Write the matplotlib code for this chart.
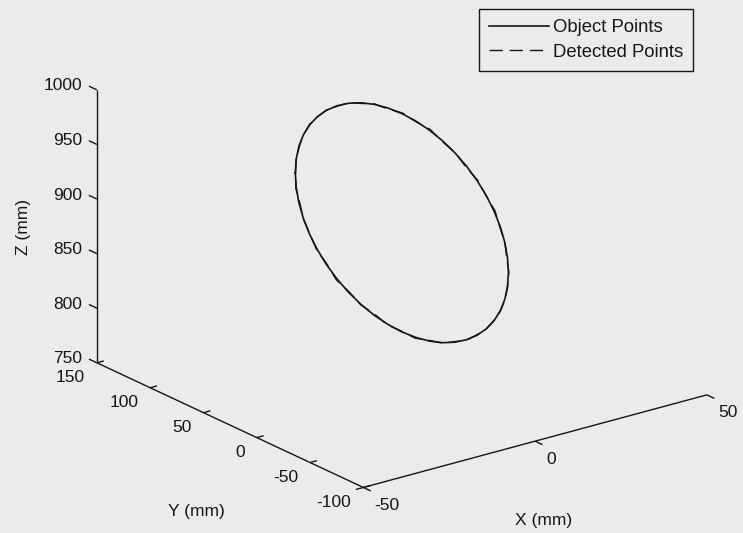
import numpy as np
import matplotlib
matplotlib.use("Agg")
import matplotlib.pyplot as plt
from mpl_toolkits.mplot3d import proj3d

# circle of object points (mm), plane X = const
obj_x = [0.0] * 49
obj_y = [125.0, 124.1, 121.6, 117.4, 111.6, 104.3, 95.7, 85.9, 75.0, 63.3, 50.9, 38.1,
         25.0, 11.9, -0.9, -13.3, -25.0, -35.9, -45.7, -54.3, -61.6, -67.4, -71.6, -74.1,
         -75.0, -74.1, -71.6, -67.4, -61.6, -54.3, -45.7, -35.9, -25.0, -13.3, -0.9, 11.9,
         25.0, 38.1, 50.9, 63.3, 75.0, 85.9, 95.7, 104.3, 111.6, 117.4, 121.6, 124.1, 125.0]
obj_z = [893.0, 906.1, 918.9, 931.3, 943.0, 953.9, 963.7, 972.3, 979.6, 985.4, 989.6, 992.1,
         993.0, 992.1, 989.6, 985.4, 979.6, 972.3, 963.7, 953.9, 943.0, 931.3, 918.9, 906.1,
         893.0, 879.9, 867.1, 854.7, 843.0, 832.1, 822.3, 813.7, 806.4, 800.6, 796.4, 793.9,
         793.0, 793.9, 796.4, 800.6, 806.4, 813.7, 822.3, 832.1, 843.0, 854.7, 867.1, 879.9, 893.0]

# detected points (mm)
det_x = [0.2, -0.1, 0.3, -0.2, 0.1, -0.3, 0.2, -0.1, 0.3, -0.2, 0.1, -0.3, 0.2, -0.1, 0.3, -0.2,
         0.1, -0.3, 0.2, -0.1, 0.3, -0.2, 0.1, -0.3, 0.2, -0.1, 0.3, -0.1, 0.2, -0.3, 0.1, -0.2,
         0.3, -0.1, 0.2, -0.3, 0.1, -0.2, 0.3, -0.1, 0.2, -0.3, 0.2, -0.2, 0.1, -0.1, 0.3, -0.2, 0.2]
det_y = [125.3, 123.9, 121.9, 117.1, 111.9, 104.0, 96.0, 85.6, 75.3, 63.0, 51.2, 37.8,
         25.3, 11.6, -0.6, -13.6, -24.7, -36.2, -45.4, -54.6, -61.3, -67.7, -71.3, -74.4,
         -74.7, -74.4, -71.3, -67.7, -61.3, -54.6, -45.4, -36.2, -24.7, -13.6, -0.6, 11.6,
         25.3, 37.8, 51.2, 63.0, 75.3, 85.6, 96.0, 104.0, 111.9, 117.1, 121.9, 123.9, 125.3]
det_z = [893.3, 905.8, 919.2, 931.0, 943.3, 953.6, 964.0, 972.0, 979.9, 985.1, 989.9, 991.8,
         993.3, 991.8, 989.9, 985.1, 979.9, 972.0, 964.0, 953.6, 943.3, 931.0, 919.2, 905.8,
         893.3, 879.6, 867.4, 854.4, 843.3, 831.8, 822.6, 813.4, 806.7, 800.3, 796.7, 793.6,
         793.3, 793.6, 796.7, 800.3, 806.7, 813.4, 822.6, 831.8, 843.3, 854.4, 867.4, 879.6, 893.3]

x_ticks = [-50, 0, 50]
y_ticks = [150, 100, 50, 0, -50, -100]
z_ticks = [750, 800, 850, 900, 950, 1000]

bg = '#ebebea'
ink = '#161616'
plt.rcParams['font.family'] = ['Liberation Sans', 'DejaVu Sans']
fs = 12.5

fig = plt.figure(figsize=(7.43, 5.33), dpi=100, facecolor=bg)
ax = fig.add_axes([0.1, 0.1, 0.8, 0.8 * 743 / 533], projection='3d', proj_type='ortho')
ax.set_facecolor(bg)
ax.set_xlim(-50, 50)
ax.set_ylim(-100, 150)
ax.set_zlim(750, 1000)
ax.set_box_aspect((1.0, 1.022, 0.677))
ax.view_init(elev=20.8, azim=-127.2)
ax.set_axis_off()

x0, x1 = -50, 50
y0, y1 = -100, 150
z0, z1 = 750, 1000


def project(x, y, z):
    xs, ys, _ = proj3d.proj_transform(np.atleast_1d(np.asarray(x, float)),
                                      np.atleast_1d(np.asarray(y, float)),
                                      np.atleast_1d(np.asarray(z, float)), ax.get_proj())
    return np.column_stack([xs, ys])


# place the axes so the box corners land where wanted (pixels, origin bottom-left)
fig.canvas.draw()
W, H = fig.bbox.width, fig.bbox.height
pos = ax.get_position()
corners = [(x0, y0, z0), (x0, y1, z0), (x0, y1, z1), (x1, y0, z0)]
targets = np.array([(363, 533 - 488), (97, 533 - 363), (97, 533 - 90), (707, 533 - 394)], float)
pix = ax.transData.transform(project(*zip(*corners)))
u = (pix[:, 0] - pos.x0 * W) / (pos.width * W)
v = (pix[:, 1] - pos.y0 * H) / (pos.height * H)
A = []
b = []
for i in range(len(corners)):
    A.append([1, 0, u[i]]); b.append(targets[i, 0])
    A.append([0, 1, v[i]]); b.append(targets[i, 1])
ox, oy, S = np.linalg.lstsq(np.array(A), np.array(b), rcond=None)[0]
ax.set_position([ox / W, oy / H, S / W, S / H])

# axis lines
line_kw = dict(color=ink, lw=1.0, solid_capstyle='butt')
ax.plot([x0, x0], [y1, y1], [z0, z1], **line_kw)
ax.plot([x0, x0], [y1, y0], [z0, z0], **line_kw)
ax.plot([x0, x1], [y0, y0], [z0, z0], **line_kw)

# tick marks
for zt in z_ticks:
    ax.plot([x0, x0], [y1, y1 + 7.5], [zt, zt], **line_kw)
for yt in y_ticks:
    ax.plot([x0, x0 + 2.0], [yt, yt], [z0, z0], **line_kw)
ax.plot([x0, x0 - 2.2], [y0, y0], [z0, z0], **line_kw)
for xt in x_ticks:
    ax.plot([xt, xt], [y0, y0 - 7.0], [z0, z0], **line_kw)

# data
ax.plot(obj_x, obj_y, obj_z, color=ink, lw=1.2, label='Object Points')
ax.plot(det_x, det_y, det_z, color=ink, lw=1.0, linestyle=(0, (9.5, 5)), label='Detected Points')

# tick labels
txt_kw = dict(textcoords='offset pixels', fontsize=fs, color=ink, annotation_clip=False)
for zt in z_ticks:
    ax.annotate(str(zt), xy=project(x0, y1, zt)[0], xytext=(-15, 4), ha='right', va='center', **txt_kw)
for yt in y_ticks:
    ax.annotate(str(yt), xy=project(x0, yt, z0)[0], xytext=(-12, -15), ha='right', va='center', **txt_kw)
for xt in x_ticks:
    ax.annotate(str(xt), xy=project(xt, y0, z0)[0], xytext=(11, -18), ha='left', va='center', **txt_kw)

# axis titles
ax.annotate('X (mm)', xy=project(0, y0, z0)[0], xytext=(8, -79), ha='center', va='center', **txt_kw)
ax.annotate('Y (mm)', xy=project(x0, 25, z0)[0], xytext=(-34, -86), ha='center', va='center', **txt_kw)
ax.annotate('Z (mm)', xy=project(x0, y1, 875)[0], xytext=(-73, -1), ha='center', va='center',
            rotation=90, **txt_kw)

leg = ax.legend(loc='upper right', bbox_to_anchor=(693 / 743, 1 - 9 / 533),
                bbox_transform=fig.transFigure, borderaxespad=0, fancybox=False,
                fontsize=13.3, handlelength=3.2, handletextpad=0.22, labelspacing=0.42,
                borderpad=0.55, framealpha=1)
leg.get_frame().set_edgecolor(ink)
leg.get_frame().set_facecolor(bg)
leg.get_frame().set_linewidth(1.0)
for t in leg.get_texts():
    t.set_color(ink)

fig.savefig('out.png', dpi=100, facecolor=bg)
